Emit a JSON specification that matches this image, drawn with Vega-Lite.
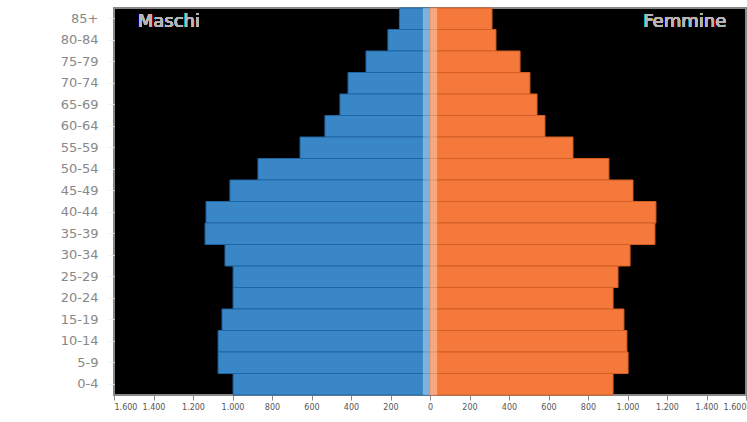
{
  "$schema": "https://vega.github.io/schema/vega-lite/v6.json",
  "width": 632,
  "height": 387,
  "autosize": "none",
  "padding": {"left": 114, "top": 8, "right": 1, "bottom": 27},
  "background": "white",
  "config": {
    "view": {"fill": "black", "stroke": "#888888", "strokeWidth": 2},
    "font": "DejaVu Sans"
  },
  "data": {
    "values": [
      {"age": "85+", "sex": "Maschi", "value": 155},
      {"age": "80-84", "sex": "Maschi", "value": 213},
      {"age": "75-79", "sex": "Maschi", "value": 324},
      {"age": "70-74", "sex": "Maschi", "value": 415},
      {"age": "65-69", "sex": "Maschi", "value": 456},
      {"age": "60-64", "sex": "Maschi", "value": 532},
      {"age": "55-59", "sex": "Maschi", "value": 658},
      {"age": "50-54", "sex": "Maschi", "value": 871},
      {"age": "45-49", "sex": "Maschi", "value": 1013},
      {"age": "40-44", "sex": "Maschi", "value": 1134},
      {"age": "35-39", "sex": "Maschi", "value": 1139},
      {"age": "30-34", "sex": "Maschi", "value": 1038},
      {"age": "25-29", "sex": "Maschi", "value": 997},
      {"age": "20-24", "sex": "Maschi", "value": 997},
      {"age": "15-19", "sex": "Maschi", "value": 1053},
      {"age": "10-14", "sex": "Maschi", "value": 1073},
      {"age": "5-9", "sex": "Maschi", "value": 1073},
      {"age": "0-4", "sex": "Maschi", "value": 997},
      {"age": "85+", "sex": "Femmine", "value": 314},
      {"age": "80-84", "sex": "Femmine", "value": 334},
      {"age": "75-79", "sex": "Femmine", "value": 456},
      {"age": "70-74", "sex": "Femmine", "value": 506},
      {"age": "65-69", "sex": "Femmine", "value": 542},
      {"age": "60-64", "sex": "Femmine", "value": 582},
      {"age": "55-59", "sex": "Femmine", "value": 724},
      {"age": "50-54", "sex": "Femmine", "value": 906},
      {"age": "45-49", "sex": "Femmine", "value": 1028},
      {"age": "40-44", "sex": "Femmine", "value": 1144},
      {"age": "35-39", "sex": "Femmine", "value": 1139},
      {"age": "30-34", "sex": "Femmine", "value": 1013},
      {"age": "25-29", "sex": "Femmine", "value": 952},
      {"age": "20-24", "sex": "Femmine", "value": 927},
      {"age": "15-19", "sex": "Femmine", "value": 982},
      {"age": "10-14", "sex": "Femmine", "value": 997},
      {"age": "5-9", "sex": "Femmine", "value": 1003},
      {"age": "0-4", "sex": "Femmine", "value": 927}
    ]
  },
  "encoding": {
    "y": {
      "field": "age",
      "type": "nominal",
      "sort": ["85+","80-84","75-79","70-74","65-69","60-64","55-59","50-54","45-49","40-44","35-39","30-34","25-29","20-24","15-19","10-14","5-9","0-4"],
      "scale": {"paddingInner": 0, "paddingOuter": 0},
      "title": null,
      "axis": {
        "domain": false,
        "ticks": true,
        "tickColor": "#eeeeee",
        "tickSize": 6,
        "labelPadding": 10,
        "labelFontSize": 13,
        "labelColor": "#888888"
      }
    }
  },
  "layer": [
    {
      "transform": [{"filter": "datum.sex == 'Maschi'"}],
      "mark": {"type": "bar", "color": "#3a87c8", "stroke": "#1f65a3", "strokeWidth": 1},
      "encoding": {
        "x": {"field": "value", "type": "quantitative", "scale": {"domain": [-1600, 1600], "reverse": true}, "axis": null}
      }
    },
    {
      "transform": [{"filter": "datum.sex == 'Femmine'"}],
      "mark": {"type": "bar", "color": "#f4793a", "stroke": "#d35e26", "strokeWidth": 1},
      "encoding": {
        "x": {
          "field": "value",
          "type": "quantitative",
          "scale": {"domain": [-1600, 1600]},
          "title": null,
          "axis": {
            "orient": "bottom",
            "grid": false,
            "values": [-1600,-1400,-1200,-1000,-800,-600,-400,-200,0,200,400,600,800,1000,1200,1400,1600],
            "labelExpr": "replace(format(abs(datum.value), ','), ',', '.')",
            "labelFlush": true,
            "labelOverlap": false,
            "domain": false,
            "tickColor": "#888888",
            "tickSize": 5,
            "labelFontSize": 8,
            "labelColor": "#555555",
            "labelPadding": 3
          }
        }
      }
    },
    {
      "mark": {"type": "rect", "color": "#ffffff", "opacity": 0.2},
      "encoding": {
        "x": {"datum": -36, "type": "quantitative", "scale": {"domain": [-1600, 1600]}, "axis": null},
        "x2": {"datum": 36}
      }
    },
    {
      "mark": {"type": "text", "text": "Maschi", "align": "left", "baseline": "middle", "fontSize": 18, "color": "#b5b5b5", "dy": 3},
      "encoding": {
        "x": {"datum": -1480, "type": "quantitative", "scale": {"domain": [-1600, 1600]}, "axis": null},
        "y": {"datum": "85+", "type": "nominal"}
      }
    },
    {
      "mark": {"type": "text", "text": "Femmine", "align": "right", "baseline": "middle", "fontSize": 18, "color": "#b5b5b5", "dy": 3},
      "encoding": {
        "x": {"datum": 1500, "type": "quantitative", "scale": {"domain": [-1600, 1600]}, "axis": null},
        "y": {"datum": "85+", "type": "nominal"}
      }
    }
  ],
  "resolve": {"scale": {"x": "independent"}}
}
